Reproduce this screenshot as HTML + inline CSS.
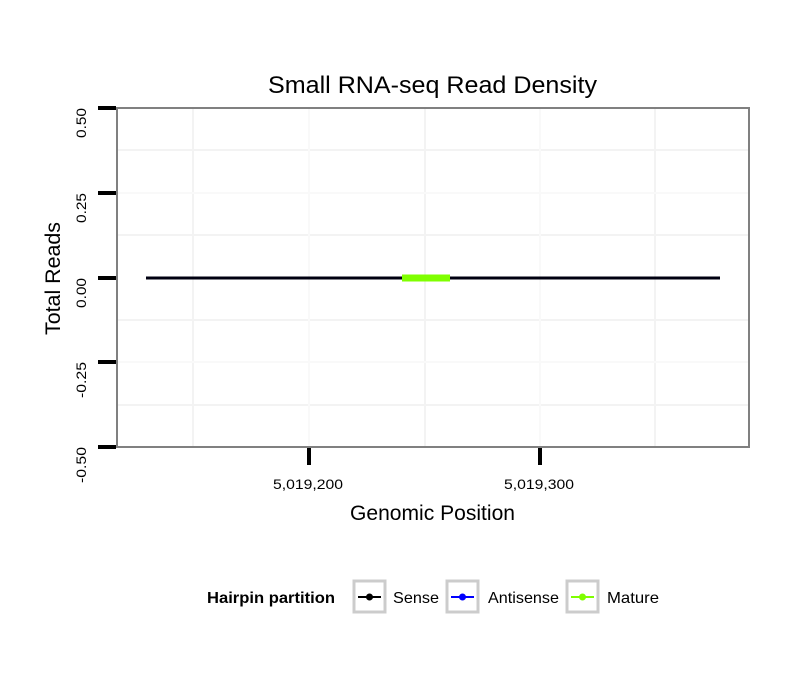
<!DOCTYPE html>
<html><head><style>body{margin:0;background:#fff}</style></head><body>
<svg width="810" height="690" xmlns="http://www.w3.org/2000/svg" font-family="Liberation Sans, sans-serif">
<rect width="810" height="690" fill="#fff"/>
<g stroke="#f3f3f3" stroke-width="2">
<line x1="193" y1="109" x2="193" y2="446"/><line x1="425" y1="109" x2="425" y2="446"/><line x1="655" y1="109" x2="655" y2="446"/>
<line x1="118" y1="150" x2="748" y2="150"/><line x1="118" y1="235" x2="748" y2="235"/><line x1="118" y1="320" x2="748" y2="320"/><line x1="118" y1="405" x2="748" y2="405"/>
</g>
<g stroke="#f9f9f9" stroke-width="2">
<line x1="309" y1="109" x2="309" y2="446"/><line x1="540" y1="109" x2="540" y2="446"/>
<line x1="118" y1="193" x2="748" y2="193"/><line x1="118" y1="362" x2="748" y2="362"/>
</g>
<rect x="117" y="108" width="632" height="339" fill="none" stroke="#808080" stroke-width="2"/>
<line x1="146" y1="278" x2="720" y2="278" stroke="#000010" stroke-width="3"/>
<line x1="402" y1="278" x2="450" y2="278" stroke="#7fff00" stroke-width="7"/>
<g stroke="#000" stroke-width="4">
<line x1="98" y1="108" x2="116" y2="108"/><line x1="98" y1="193" x2="116" y2="193"/><line x1="98" y1="278" x2="116" y2="278"/><line x1="98" y1="362" x2="116" y2="362"/><line x1="98" y1="447" x2="116" y2="447"/>
<line x1="309" y1="448" x2="309" y2="465"/><line x1="540" y1="448" x2="540" y2="465"/>
</g>
<g font-size="14" text-anchor="end" fill="#000">
<text transform="translate(86,108) rotate(-90)" textLength="30" lengthAdjust="spacingAndGlyphs">0.50</text>
<text transform="translate(86,193) rotate(-90)" textLength="30" lengthAdjust="spacingAndGlyphs">0.25</text>
<text transform="translate(86,278) rotate(-90)" textLength="30" lengthAdjust="spacingAndGlyphs">0.00</text>
<text transform="translate(86,362) rotate(-90)" textLength="36" lengthAdjust="spacingAndGlyphs">-0.25</text>
<text transform="translate(86,447) rotate(-90)" textLength="36" lengthAdjust="spacingAndGlyphs">-0.50</text>
</g>
<g font-size="14" fill="#000">
<text x="273" y="489" textLength="70" lengthAdjust="spacingAndGlyphs">5,019,200</text>
<text x="504" y="489" textLength="70" lengthAdjust="spacingAndGlyphs">5,019,300</text>
</g>
<text x="268" y="93" font-size="24" textLength="329" lengthAdjust="spacingAndGlyphs">Small RNA-seq Read Density</text>
<text x="350" y="520" font-size="21" textLength="165" lengthAdjust="spacingAndGlyphs">Genomic Position</text>
<text transform="translate(60,335) rotate(-90)" font-size="21" textLength="113" lengthAdjust="spacingAndGlyphs">Total Reads</text>
<text x="207" y="603" font-size="16" font-weight="bold" textLength="128" lengthAdjust="spacingAndGlyphs">Hairpin partition</text>
<g stroke="#cccccc" stroke-width="3" fill="#fff">
<rect x="354" y="581" width="31" height="31"/><rect x="447" y="581" width="31" height="31"/><rect x="567" y="581" width="31" height="31"/>
</g>
<g stroke-width="2">
<line x1="358" y1="597" x2="381" y2="597" stroke="#000"/><circle cx="369.5" cy="597" r="3.5" fill="#000"/>
<line x1="451" y1="597" x2="474" y2="597" stroke="#0000ff"/><circle cx="462.5" cy="597" r="3.5" fill="#0000ff"/>
<line x1="571" y1="597" x2="594" y2="597" stroke="#7fff00"/><circle cx="582.5" cy="597" r="3.5" fill="#7fff00"/>
</g>
<g font-size="16">
<text x="393" y="603" textLength="46" lengthAdjust="spacingAndGlyphs">Sense</text>
<text x="488" y="603" textLength="71" lengthAdjust="spacingAndGlyphs">Antisense</text>
<text x="607" y="603" textLength="52" lengthAdjust="spacingAndGlyphs">Mature</text>
</g>
</svg>
</body></html>
